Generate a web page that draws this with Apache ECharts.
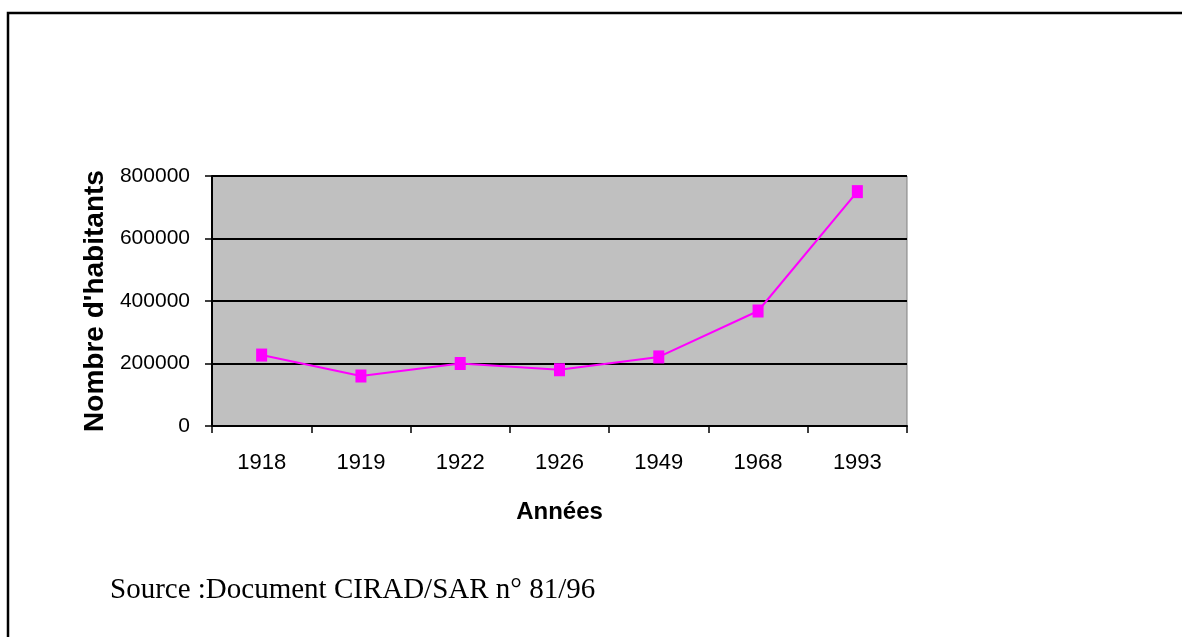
<!DOCTYPE html>
<html>
<head>
<meta charset="utf-8">
<script src="https://cdn.jsdelivr.net/npm/echarts@6/dist/echarts.min.js"></script>
<style>
  html, body { margin: 0; padding: 0; background: #fff; }
  #container { width: 1182px; height: 637px; }
</style>
</head>
<body>
<div id="container"></div>
<script>
const annees = ['1918', '1919', '1922', '1926', '1949', '1968', '1993'];
const habitants = [227000, 160000, 200000, 180000, 221000, 368000, 750000];
const yTicks = [0, 200000, 400000, 600000, 800000];

const dom = document.getElementById('container');
const myChart = echarts.init(dom);

const option = {
	backgroundColor: '#fff',
	animation: false,
	grid: {
		left: 212,
		top: 176,
		right: 275,
		bottom: 211,
		show: true,
		backgroundColor: '#c0c0c0',
		borderColor: '#808080',
		borderWidth: 1,
	},
	xAxis: {
		type: 'category',
		data: annees,
		boundaryGap: true,
		name: 'Années',
		nameLocation: 'middle',
		nameGap: 74,
		nameTextStyle: { fontFamily: 'Liberation Sans', fontWeight: 'bold', fontSize: 24, color: '#000' },
		axisLine: { lineStyle: { color: '#000', width: 2 } },
		axisTick: { show: true, length: 7, lineStyle: { color: '#000', width: 1.5 } },
		axisLabel: { fontFamily: 'Liberation Sans', fontSize: 22, color: '#000', margin: 26 },
		splitLine: { show: false },
	},
	yAxis: {
		type: 'value',
		min: yTicks[0],
		max: yTicks[yTicks.length - 1],
		interval: yTicks[1] - yTicks[0],
		name: "Nombre d'habitants",
		nameLocation: 'middle',
		nameGap: 103,
		nameTextStyle: { fontFamily: 'Liberation Sans', fontWeight: 'bold', fontSize: 28, color: '#000' },
		axisLine: { show: true, lineStyle: { color: '#000', width: 2 } },
		axisTick: { show: true, length: 7, lineStyle: { color: '#000', width: 1.5 } },
		axisLabel: {
			fontFamily: 'Liberation Sans',
			fontSize: 21,
			color: '#000',
			margin: 22,
			formatter: (v) => String(v),
		},
		splitLine: { show: true, lineStyle: { color: '#000', width: 2 } },
	},
	series: [
		{
			type: 'line',
			data: habitants,
			symbol: 'rect',
			symbolSize: [11, 13],
			showAllSymbol: true,
			itemStyle: { color: '#ff00ff' },
			lineStyle: { color: '#ff00ff', width: 2 },
		},
	],
	graphic: [
		{
			type: 'polyline',
			shape: { points: [[8, 637], [8, 13], [1182, 13]] },
			style: { stroke: '#000', lineWidth: 2.5, fill: null },
		},
		{
			type: 'text',
			x: 110,
			y: 590,
			style: {
				text: 'Source :Document CIRAD/SAR n° 81/96',
				fontFamily: 'Liberation Serif',
				fontSize: 29,
				fill: '#000',
				verticalAlign: 'middle',
			},
		},
	],
};

if (option && typeof option === 'object') {
	myChart.setOption(option);
}
</script>
</body>
</html>
